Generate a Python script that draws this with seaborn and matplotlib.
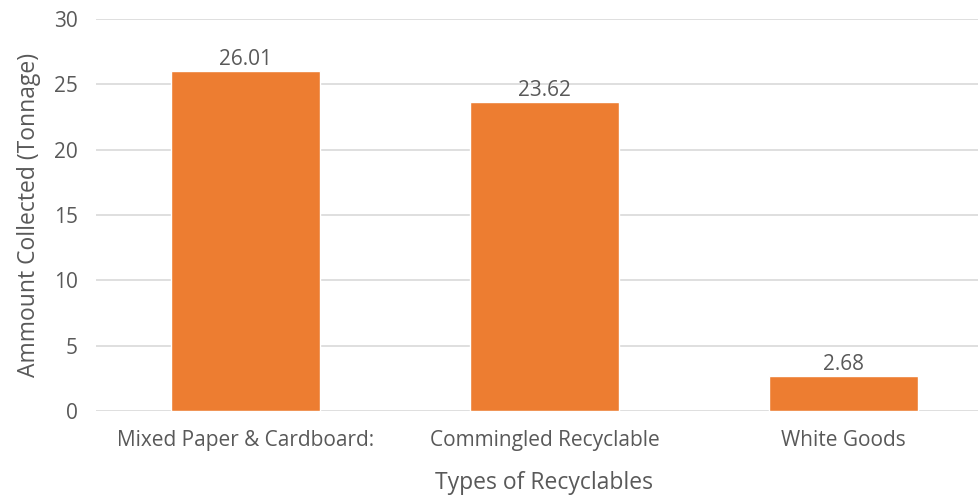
import pandas as pd
import seaborn as sns
import matplotlib.pyplot as plt

categories = ['Mixed Paper & Cardboard:', 'Commingled Recyclable', 'White Goods']
tonnage = [26.01, 23.62, 2.68]

df = pd.DataFrame({'Type': categories, 'Tonnage': tonnage})

sns.set_style("white")
plt.rcParams['font.family'] = ['Open Sans', 'DejaVu Sans']
text_col = '#595959'

fig = plt.figure(figsize=(9.79, 4.97), dpi=100)
ax = fig.add_axes([96 / 979, 86 / 497, 897 / 979, 392 / 497])

sns.barplot(x='Type', y='Tonnage', data=df, color='#ED7D31', width=0.495,
            saturation=1, ax=ax, zorder=3)

for p in ax.patches:
    ax.annotate(f'{p.get_height():.2f}', (p.get_x() + p.get_width() / 2, p.get_height()),
                xytext=(0, 1), textcoords='offset points',
                ha='center', va='bottom', fontsize=15, color=text_col)

ax.set_ylim(0, 30)
ax.set_yticks(range(0, 31, 5))
ax.set_xlim(-0.5, 2.5)
ax.grid(axis='y', color='#D9D9D9', linewidth=1.2, zorder=0)
for s in ax.spines.values():
    s.set_visible(False)
ax.tick_params(axis='both', length=0, labelsize=15, labelcolor=text_col)
ax.tick_params(axis='x', pad=14)
ax.tick_params(axis='y', pad=13)

ax.set_xlabel('Types of Recyclables', fontsize=16.5, color=text_col, labelpad=14)
ax.set_ylabel('Ammount Collected (Tonnage)', fontsize=16.5, color=text_col, labelpad=9)

fig.savefig('out.png', dpi=100)
